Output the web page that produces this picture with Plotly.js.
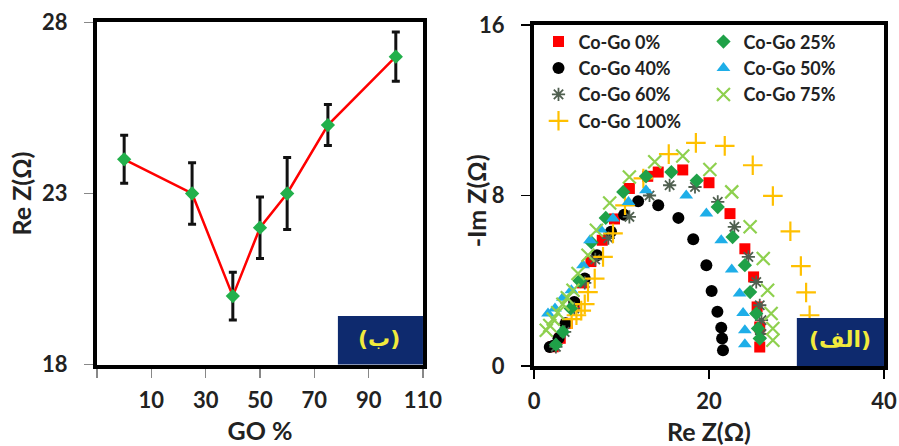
<!DOCTYPE html>
<html>
<head>
<meta charset="utf-8">
<script src="https://cdn.plot.ly/plotly-3.0.1.min.js"></script>
<style>html,body{margin:0;padding:0;background:#fff;}#chart{width:899px;height:446px;}</style>
</head>
<body>
<div id="chart"></div>
<script>
// ---- Left panel (ب): Re Z vs GO % ----
const goPercent = [0, 25, 40, 50, 60, 75, 100];
const reZ = [24.0, 23.0, 20.0, 22.0, 23.0, 25.0, 27.0];
const reZErr = [0.7, 0.9, 0.7, 0.9, 1.05, 0.6, 0.72];
const leftTickVals = [-10, 10, 30, 50, 70, 90, 110];
const leftTickText = ["", "10", "30", "50", "70", "90", "110"];
const leftYTicks = [18, 23, 28];

// ---- Right panel (الف): Nyquist plots ----
const seriesNames = ["Co-Go 0%", "Co-Go 25%", "Co-Go 40%", "Co-Go 50%", "Co-Go 60%", "Co-Go 75%", "Co-Go 100%"];
const re0 = [2.2, 3.0, 3.8, 4.6, 5.5, 6.5, 7.8, 9.2, 10.9, 13.0, 14.2, 17.0, 20.0, 22.4, 24.1, 25.1, 25.5, 25.8, 25.8];
const im0 = [0.9, 1.3, 2.0, 2.9, 3.9, 4.9, 5.9, 6.9, 8.33, 8.9, 9.1, 9.2, 8.6, 7.15, 5.5, 4.18, 2.77, 1.83, 0.89];
const re25 = [2.5, 3.3, 4.2, 5.2, 6.56, 8.2, 10.2, 12.8, 15.7, 18.6, 21.0, 22.7, 24.1, 24.7, 25.4, 25.6, 25.8];
const im25 = [1.0, 1.6, 2.7, 4.0, 5.8, 6.95, 8.17, 8.9, 9.1, 8.7, 7.46, 6.05, 4.73, 3.47, 2.46, 1.76, 1.29];
const re40 = [1.8, 2.2, 2.8, 3.6, 4.6, 5.8, 7.2, 8.8, 10.3, 11.9, 14.2, 16.5, 18.2, 19.7, 20.3, 20.96, 21.4, 21.5, 21.6];
const im40 = [0.89, 0.95, 1.3, 2.0, 3.0, 4.1, 5.2, 6.3, 7.1, 7.73, 7.54, 6.95, 5.95, 4.73, 3.52, 2.54, 1.8, 1.29, 0.74];
const re50 = [1.6, 2.4, 3.3, 4.27, 5.6, 6.4, 7.6, 9.03, 10.8, 12.8, 17.4, 19.7, 21.4, 22.6, 23.5, 23.9, 24.1, 24.1];
const im50 = [2.46, 2.7, 3.2, 3.55, 4.73, 5.9, 6.4, 6.92, 7.7, 8.25, 8.0, 7.15, 5.9, 4.53, 3.4, 2.49, 1.68, 1.02];
const re60 = [2.5, 3.5, 4.6, 5.8, 7.0, 8.5, 10.9, 13.2, 15.5, 18.4, 21.0, 22.9, 24.5, 25.4, 25.8, 26.0, 26.0];
const im60 = [0.9, 1.6, 2.7, 3.9, 5.0, 6.0, 7.0, 8.0, 8.48, 8.4, 7.7, 6.53, 5.12, 3.94, 2.85, 2.15, 1.5];
const re75 = [1.4, 1.8, 2.2, 2.7, 3.3, 3.8, 4.46, 5.03, 6.17, 7.13, 8.65, 10.9, 13.8, 17.0, 20.1, 22.6, 24.7, 26.2, 26.7, 27.1, 27.3, 27.3];
const im75 = [1.68, 1.9, 2.2, 2.5, 2.9, 3.2, 3.55, 4.34, 5.2, 6.37, 7.65, 8.87, 9.58, 9.85, 9.22, 8.17, 6.53, 5.04, 3.55, 2.46, 1.76, 1.21];
const re100 = [4.3, 4.85, 5.4, 5.8, 6.17, 6.94, 7.89, 9.03, 10.4, 12.5, 15.4, 18.5, 21.8, 25.0, 27.3, 29.3, 30.5, 31.1, 31.5, 31.7, 31.8];
const im100 = [2.2, 2.38, 2.6, 2.9, 3.47, 4.1, 5.12, 6.22, 7.54, 8.8, 9.94, 10.47, 10.33, 9.42, 7.98, 6.32, 4.69, 3.45, 2.38, 1.6, 0.9];
const rightXTicks = [0, 20, 40];
const rightYTicks = [0, 8, 16];

const FONT = "Lato, 'Open Sans', sans-serif";
const tickFont = {family: FONT, size: 22, color: '#222', weight: 700};
const titleFont = {family: FONT, size: 25, color: '#222', weight: 700};

function mk(name, x, y, symbol, color, size, legend, lw, lc) {
  return {
    type: 'scatter', mode: 'markers', name: name, x: x, y: y,
    xaxis: 'x2', yaxis: 'y2', legend: legend,
    marker: {symbol: symbol, color: color, size: size, line: {width: lw || 0, color: lc || color}}
  };
}

const traces = [
  {
    type: 'scatter', mode: 'lines+markers', x: goPercent, y: reZ, xaxis: 'x', yaxis: 'y',
    showlegend: false,
    line: {color: '#ff0000', width: 2.5},
    marker: {symbol: 'diamond', color: '#22b04b', size: 11},
    error_y: {type: 'data', array: reZErr, visible: true, color: '#111', thickness: 3, width: 4}
  },
  mk(seriesNames[0], re0, im0, 'square', '#ff0000', 11, 'legend'),
  mk(seriesNames[2], re40, im40, 'circle', '#000000', 12, 'legend'),
  mk(seriesNames[4], re60, im60, 'asterisk-open', '#4f5f4f', 11, 'legend', 1.8),
  mk(seriesNames[6], re100, im100, 'cross-thin-open', '#ffc000', 14, 'legend', 2.2),
  mk(seriesNames[1], re25, im25, 'diamond', '#1fa148', 11, 'legend2'),
  mk(seriesNames[3], re50, im50, 'triangle-up', '#1eaee8', 12, 'legend2'),
  mk(seriesNames[5], re75, im75, 'x-thin-open', '#8ed04e', 13, 'legend2', 2.2)
];

const axisCommon = {
  showline: true, linewidth: 4, linecolor: '#000', mirror: true,
  showgrid: false, zeroline: false, ticks: 'outside', ticklen: 9, tickwidth: 1.5,
  tickfont: tickFont, ticklabelstandoff: 12, automargin: false
};

const legendFont = {family: FONT, size: 18, color: '#222', weight: 700};

const layout = {
  width: 899, height: 446,
  margin: {l: 0, r: 0, t: 0, b: 0},
  paper_bgcolor: '#fff', plot_bgcolor: '#fff',
  xaxis: Object.assign({}, axisCommon, {
    domain: [0.1079, 0.4705], anchor: 'y', range: [-10, 110],
    tickvals: leftTickVals, ticktext: leftTickText, tickcolor: '#888',
    ticklabelstandoff: 4,
    title: {text: 'GO %', font: titleFont, standoff: 12}
  }),
  yaxis: Object.assign({}, axisCommon, {
    domain: [0.1827, 0.9496], anchor: 'x', range: [18, 28],
    tickvals: leftYTicks, tickcolor: '#888',
    title: {text: 'Re Z(Ω)', font: titleFont, standoff: 4}
  }),
  xaxis2: Object.assign({}, axisCommon, {
    domain: [0.594, 0.9833], anchor: 'y2', range: [0, 40],
    tickvals: rightXTicks, tickcolor: '#000',
    ticklabelstandoff: 4,
    title: {text: 'Re Z(Ω)', font: titleFont, standoff: 12}
  }),
  yaxis2: Object.assign({}, axisCommon, {
    domain: [0.1794, 0.9439], anchor: 'x2', range: [0, 16],
    tickvals: rightYTicks, tickcolor: '#000'
  }),
  legend: {
    x: 0.599, y: 0.9475, xanchor: 'left', yanchor: 'top',
    bgcolor: 'rgba(0,0,0,0)', borderwidth: 0, tracegroupgap: 0, itemwidth: 30,
    font: legendFont
  },
  legend2: {
    x: 0.7825, y: 0.9475, xanchor: 'left', yanchor: 'top',
    bgcolor: 'rgba(0,0,0,0)', borderwidth: 0, tracegroupgap: 0, itemwidth: 30,
    font: legendFont
  },
  shapes: [
    {type: 'rect', xref: 'x domain', yref: 'y domain', x0: 0.739, x1: 1, y0: 0, y1: 0.142,
     fillcolor: '#0e2a6e', line: {width: 0}, layer: 'above'},
    {type: 'rect', xref: 'x2 domain', yref: 'y2 domain', x0: 0.751, x1: 1, y0: 0, y1: 0.141,
     fillcolor: '#0e2a6e', line: {width: 0}, layer: 'above'}
  ],
  annotations: [
    {xref: 'paper', yref: 'paper', x: 0.529, y: 0.55, text: '-Im Z(Ω)', textangle: -90, showarrow: false,
     font: titleFont},
    {xref: 'x domain', yref: 'y domain', x: 0.937, y: 0.035, text: '(ب)', showarrow: false,
     font: {family: "'DejaVu Sans', sans-serif", size: 22, color: '#f2ea3c', weight: 700}},
    {xref: 'x2 domain', yref: 'y2 domain', x: 0.968, y: 0.034, text: '(الف)', showarrow: false,
     font: {family: "'DejaVu Sans', sans-serif", size: 22, color: '#f2ea3c', weight: 700}}
  ]
};

Plotly.newPlot('chart', traces, layout, {displayModeBar: false, staticPlot: true});
</script>
</body>
</html>
